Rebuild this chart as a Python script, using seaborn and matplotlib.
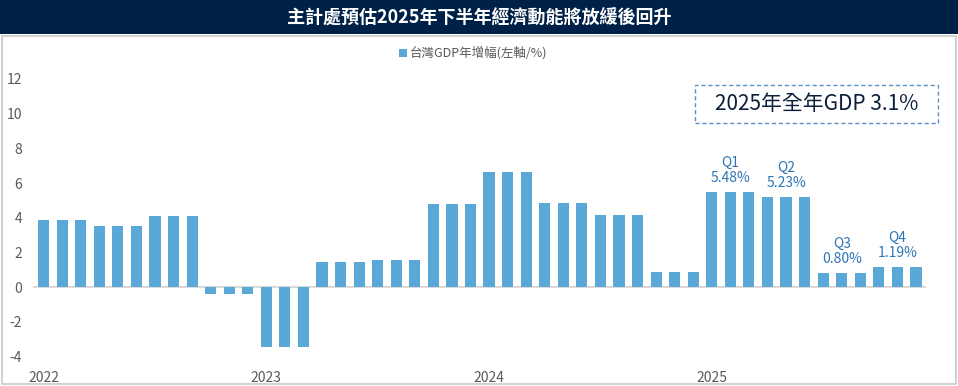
import numpy as np
import pandas as pd
import matplotlib
matplotlib.use("Agg")
import matplotlib.pyplot as plt
import matplotlib.patches as patches
import seaborn as sns

# 季度資料 (每季重複三個月顯示)
quarters = ["2022Q1", "2022Q2", "2022Q3", "2022Q4",
            "2023Q1", "2023Q2", "2023Q3", "2023Q4",
            "2024Q1", "2024Q2", "2024Q3", "2024Q4",
            "2025Q1", "2025Q2", "2025Q3", "2025Q4"]
gdp_yoy = [3.87, 3.55, 4.10, -0.41,
           -3.45, 1.48, 1.56, 4.80,
           6.64, 4.88, 4.15, 0.88,
           5.48, 5.23, 0.80, 1.19]
year_labels = ["2022", "2023", "2024", "2025"]
q_labels = ["Q1\n5.48%", "Q2\n5.23%", "Q3\n0.80%", "Q4\n1.19%"]

months = [f"{q}-{m}" for q in quarters for m in range(3)]
values = np.repeat(gdp_yoy, 3)
df = pd.DataFrame({"month": months, "gdp": values})

BAR = "#5AA8D8"
NAVY = "#002147"
GRAY = "#595959"

sns.set_theme(style="white")
plt.rcParams["font.family"] = ["Noto Sans CJK TC", "DejaVu Sans"]
plt.rcParams["axes.unicode_minus"] = False

fig = plt.figure(figsize=(9.58, 3.86), dpi=100)
ax = fig.add_axes([33 / 958, 1 - 356.7 / 386, (926 - 33) / 958, (356.7 - 79) / 386])

sns.barplot(data=df, x="month", y="gdp", color=BAR, width=0.6, ax=ax,
            saturation=1, linewidth=0)

ax.set_xlim(-0.57, len(months) - 0.46)
ax.set_ylim(-4, 12)
ax.set_yticks(range(-4, 13, 2))
ax.tick_params(axis="y", labelsize=10, labelcolor=GRAY, pad=8, length=0)
ax.set_xticks([0, 12, 24, 36])
ax.set_xticklabels(year_labels)
ax.tick_params(axis="x", labelsize=10, labelcolor=GRAY, pad=10, length=0)
ax.set_xlabel("")
ax.set_ylabel("")
for s in ax.spines.values():
    s.set_visible(False)
ax.axhline(0, color="#D9D9D9", lw=1.5, zorder=0)

# 2025 各季標註
last_idx = len(quarters) - 4
for i, lab in enumerate(q_labels):
    center = (last_idx + i) * 3 + 1
    ax.annotate(lab, xy=(center, gdp_yoy[last_idx + i]), xytext=(0, 5),
                textcoords="offset points", ha="center", va="bottom",
                fontsize=10, color="#2E75B6", linespacing=1.1)

# 標題列
fig.patches.append(patches.Rectangle((0, 1 - 34 / 386), 1, 34 / 386,
                                     transform=fig.transFigure, facecolor=NAVY,
                                     edgecolor="none", zorder=0))
fig.text(0.5, 1 - 17 / 386, "主計處預估2025年下半年經濟動能將放緩後回升",
         ha="center", va="center", color="white", fontsize=13, fontweight="bold")

# 外框
fig.patches.append(patches.Rectangle((1.5 / 958, 2 / 386), 954.5 / 958, (384 - 36) / 386,
                                     transform=fig.transFigure, facecolor="none",
                                     edgecolor="#C8C8C8", lw=1.2, zorder=0))

# 圖例
fig.patches.append(patches.Rectangle((399 / 958, 1 - 57 / 386), 8 / 958, 8 / 386,
                                     transform=fig.transFigure, facecolor=BAR,
                                     edgecolor="none"))
fig.text(410 / 958, 1 - 53 / 386, "台灣GDP年增幅(左軸/%)", ha="left", va="center",
         color=GRAY, fontsize=9)

# 全年預估框
fig.patches.append(patches.Rectangle((695 / 958, 1 - 123 / 386), 243 / 958, 38 / 386,
                                     transform=fig.transFigure, facecolor="white",
                                     edgecolor="#5B8FC7", linestyle=(0, (3, 2)),
                                     lw=1, zorder=3))
fig.text(816.5 / 958, 1 - 104 / 386, "2025年全年GDP 3.1%", ha="center", va="center",
         color="#0B1F3A", fontsize=15, fontweight="medium", zorder=4)

fig.savefig("out.png", dpi=100)
